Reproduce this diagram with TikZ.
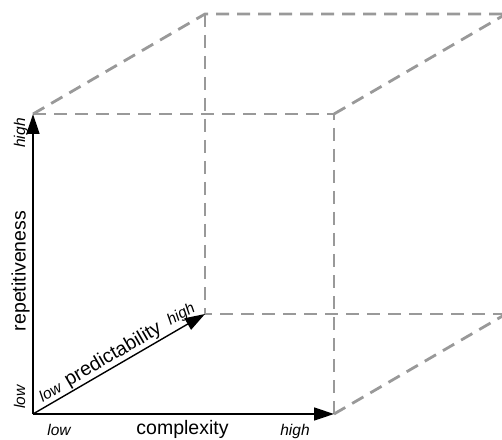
\documentclass[tikz,border=0pt]{standalone}
\usepackage{fontspec}
\setmainfont{Liberation Sans}
\usetikzlibrary{arrows.meta}
\begin{document}
\begin{tikzpicture}[x=1pt,y=1pt,
  cubeedge/.style={draw=black!40, line width=2.8pt, dash pattern=on 13pt off 8pt},
  axisline/.style={draw=black, line width=1.4pt, -{Triangle[length=20pt,width=13pt]}},
  biglabel/.style={inner sep=0pt, font=\fontsize{19.5}{21}\selectfont, anchor=base},
  smalllabel/.style={inner sep=0pt, font=\fontsize{15.5}{17}\selectfont\itshape, anchor=base}]
\useasboundingbox (0,0) rectangle (502,439);
% corners
\coordinate (O) at (33,25);
\coordinate (FTL) at (33,325);
\coordinate (FTR) at (334,325);
\coordinate (FBR) at (334,25);
\coordinate (BBL) at (205,125);
\coordinate (BTL) at (205,425);
\coordinate (BTR) at (506,425);
\coordinate (BBR) at (506,125);
% dashed cube edges
\draw[cubeedge] (FTL) -- (FTR) -- (FBR);
\draw[cubeedge] (FTL) -- (BTL) -- (BTR);
\draw[cubeedge] (FTR) -- (BTR);
\draw[cubeedge] (BTL) -- (BBL) -- (BBR);
\draw[cubeedge] (FBR) -- (BBR);
\draw[cubeedge] (BTR) -- (BBR);
% axes
\draw[axisline] (O) -- (FBR);
\draw[axisline] (O) -- (FTL);
\draw[axisline] (O) -- (BBL);
% labels
\node[smalllabel] (xlow) at (59,3.5) {low};
\node[biglabel] (xlab) at (182.5,4.5) {complexity};
\node[smalllabel] (xhigh) at (295,3.5) {high};
\node[smalllabel, rotate=90] (ylow) at (25,42) {low};
\node[biglabel, rotate=90] (ylab) at (25.5,168) {repetitiveness};
\node[smalllabel, rotate=90] (yhigh) at (25,306) {high};
\node[smalllabel, rotate=30.17] (zlow) at (52.9,42.4) {low};
\node[biglabel, rotate=30.17] (zlab) at (115.8,79.7) {predictability};
\node[smalllabel, rotate=30.17] (zhigh) at (183.3,120.4) {high};
\end{tikzpicture}
\end{document}
